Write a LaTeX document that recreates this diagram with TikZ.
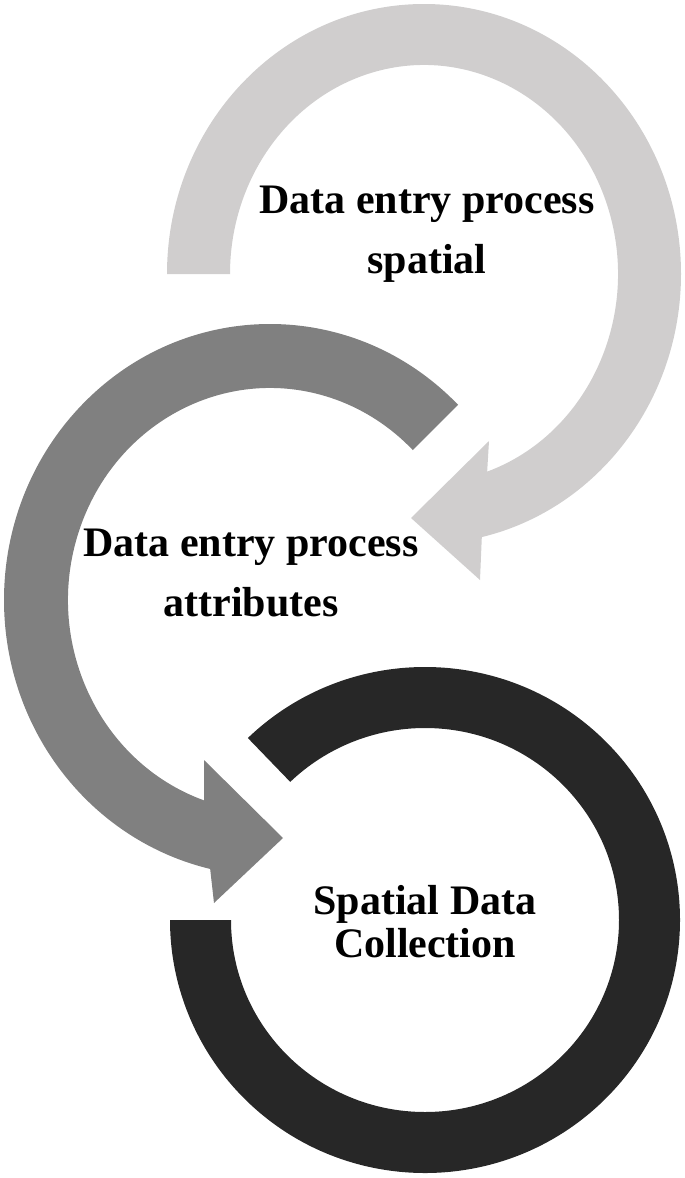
\documentclass[tikz,border=0pt]{standalone}
\usepackage{fontspec}
\setmainfont{Liberation Serif}
\usetikzlibrary{calc}
\definecolor{lightarc}{HTML}{D0CECE}
\definecolor{midarc}{HTML}{808080}
\definecolor{darkarc}{HTML}{272727}
\tikzset{arctext/.style={font=\fontsize{42}{60}\selectfont\bfseries, align=center, inner sep=0pt}}

\begin{document}
\begin{tikzpicture}[x=1pt, y=1pt]
			%%%%% START %%%%%
			\useasboundingbox (0, 0) rectangle (685, -1178);
			
			\coordinate (topc) at (424, -274);
			\coordinate (midc) at (270, -600);
			\coordinate (botc) at (425, -920);
			
			% top arrow, light
			\fill[lightarc] ($(topc)+(180:257 and 270)$) arc[start angle=180, end angle=-77, x radius=257, y radius=270]
				-- (480, -580) -- (411, -518) -- (489, -441)
				-- ($(topc)+(-71:194 and 209)$) arc[start angle=-71, end angle=180, x radius=194, y radius=209] -- cycle;
			
			% middle arrow, grey
			\fill[midarc] ($(midc)+(45:266 and 276)$) arc[start angle=45, end angle=257, x radius=266, y radius=276]
				-- (214, -903) -- (283, -838) -- (204, -760)
				-- ($(midc)+(251:202 and 212)$) arc[start angle=251, end angle=45, x radius=202, y radius=212] -- cycle;
			
			% bottom ring, dark
			\fill[darkarc] ($(botc)+(134:255 and 253)$) arc[start angle=134, end angle=-180, x radius=255, y radius=253]
				-- ($(botc)+(-180:194 and 192)$) arc[start angle=-180, end angle=134, x radius=194, y radius=192] -- cycle;
			
			\node[arctext] (spatial) at (427, -234) {Data entry process\\spatial};
			\node[arctext] (attrib) at (251, -573) {Data entry process\\attributes};
			\node[arctext, font=\fontsize{42}{43}\selectfont\bfseries] (collect) at (425, -922) {Spatial Data\\Collection};
			
			%%%%% END %%%%%
		\end{tikzpicture}
\end{document}
